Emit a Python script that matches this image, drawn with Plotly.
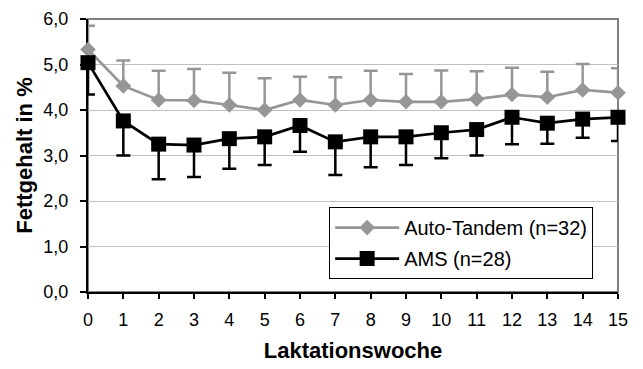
import plotly.graph_objects as go

weeks = list(range(16))
tick_labels = [str(w) for w in weeks]

auto_tandem_mean = [5.33, 4.53, 4.22, 4.21, 4.11, 4.00, 4.22, 4.11, 4.22, 4.18, 4.18, 4.24, 4.34, 4.28, 4.44, 4.38]
auto_tandem_sd = [0.52, 0.56, 0.64, 0.69, 0.71, 0.70, 0.51, 0.61, 0.64, 0.61, 0.69, 0.61, 0.59, 0.56, 0.57, 0.54]

ams_mean = [5.04, 3.76, 3.25, 3.23, 3.37, 3.41, 3.66, 3.30, 3.41, 3.41, 3.50, 3.57, 3.84, 3.71, 3.80, 3.84]
ams_sd = [0.70, 0.76, 0.77, 0.70, 0.66, 0.62, 0.58, 0.73, 0.67, 0.62, 0.56, 0.57, 0.59, 0.45, 0.41, 0.52]

gray = "#969696"
font = "Liberation Sans, Arial, sans-serif"

fig = go.Figure()
fig.add_trace(go.Scatter(
    x=weeks, y=auto_tandem_mean, name="Auto-Tandem (n=32)", mode="lines+markers",
    line=dict(color=gray, width=2.7),
    marker=dict(symbol="diamond", size=12, color=gray),
    error_y=dict(type="data", symmetric=False, array=auto_tandem_sd,
                 arrayminus=[0] * len(weeks), color=gray, thickness=2.5, width=7),
    cliponaxis=False, legendgroup="a",
))
fig.add_trace(go.Scatter(
    x=weeks, y=ams_mean, name="AMS (n=28)", mode="lines+markers",
    line=dict(color="black", width=2.7),
    marker=dict(symbol="square", size=15, color="black"),
    error_y=dict(type="data", symmetric=False, array=[0] * len(weeks),
                 arrayminus=ams_sd, color="black", thickness=2.5, width=7),
    cliponaxis=False, legendgroup="b",
))

fig.update_layout(
    width=643, height=369,
    margin=dict(l=88, r=25, t=19, b=77),
    paper_bgcolor="white", plot_bgcolor="white",
    separators=",.",
    font=dict(family=font, size=18, color="black"),
    showlegend=True,
    legend=dict(
        x=0.455, y=0.311, xanchor="left", yanchor="top",
        bgcolor="white", bordercolor="black", borderwidth=1,
        font=dict(family=font, size=20, color="black"),
        tracegroupgap=2, itemwidth=64,
    ),
    shapes=[dict(type="rect", xref="paper", yref="paper", x0=0, x1=1, y0=0, y1=1,
                 line=dict(color="#808080", width=2), layer="below")],
)
fig.update_xaxes(
    range=[0, 15], tickmode="array", tickvals=weeks, ticktext=tick_labels,
    showgrid=False, zeroline=False, automargin=False,
    showline=True, linecolor="black", linewidth=2,
    ticks="outside", ticklen=5, tickwidth=1.5, tickcolor="black",
    ticklabelstandoff=5,
    title=dict(text="<b>Laktationswoche</b>", font=dict(size=22), standoff=14),
    layer="below traces",
)
fig.update_yaxes(
    range=[0, 6], dtick=1, tickformat=".1f",
    showgrid=True, gridcolor="#c0c0c0", gridwidth=1, zeroline=False, automargin=False,
    showline=True, linecolor="black", linewidth=2,
    ticks="outside", ticklen=6, tickwidth=1.5, tickcolor="black",
    ticklabelstandoff=8,
    title=dict(text="<b>Fettgehalt in %</b>", font=dict(size=22), standoff=5),
    layer="below traces",
)

fig.write_html("out.html")
